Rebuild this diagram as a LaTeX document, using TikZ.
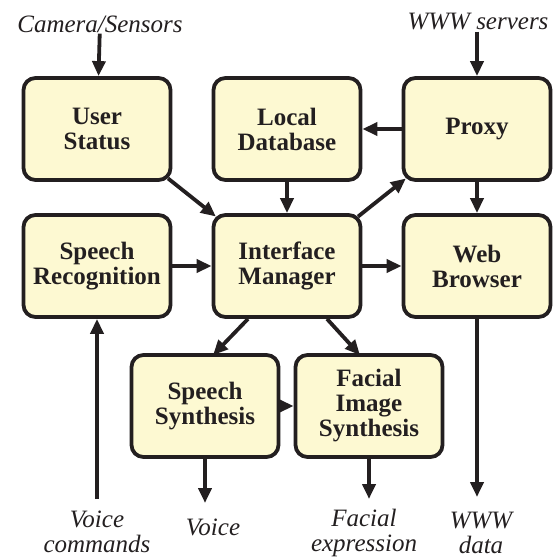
\documentclass[tikz,border=0pt]{standalone}
\usepackage{fontspec}
\setmainfont{Liberation Serif}
\usetikzlibrary{positioning, arrows.meta}
\definecolor{boxfill}{RGB}{253,249,210}
\definecolor{ink}{RGB}{35,31,32}
\tikzset{
    block/.style={draw=ink, line width=3.8pt, fill=boxfill, rounded corners=12pt,
        minimum width=147pt, minimum height=102pt, align=center,
        font=\fontsize{25}{25}\selectfont\bfseries, text=ink}, % the yellow boxes
    io/.style={align=center, inner sep=1pt, font=\fontsize{25}{25}\selectfont\itshape, text=ink}, % outside labels
}
\tikzstyle{arrow} = [draw=ink, line width=3.8pt, -{Triangle[length=15pt, width=13pt]}]

\begin{document}
\begin{tikzpicture}[x=1pt, y=-1pt, on grid, node distance=137pt and 190pt]
    \useasboundingbox (0,0) rectangle (554,560);

    % Blocks
    \node[block] (manager) at (287,266) {Interface\\Manager};
    \node[block] (database) [above=of manager] {Local\\Database};
    \node[block] (status) [left=of database] {User\\Status};
    \node[block] (proxy) [right=of database] {Proxy};
    \node[block] (recog) [left=of manager] {Speech\\Recognition};
    \node[block] (browser) [right=of manager] {Web\\Browser};
    \node[block] (speech) [below left=140pt and 82pt of manager] {Speech\\Synthesis};
    \node[block] (face) [right=164pt of speech] {Facial\\Image\\Synthesis};

    % Inputs and outputs
    \node[io] (camera) at (100,24) {Camera/Sensors};
    \node[io] (servers) at (478,22) {WWW servers};
    \node[io, anchor=north] (vcmd) at (97,510) {Voice\\commands};
    \node[io, anchor=north] (voice) at (213,518) {Voice};
    \node[io, anchor=north] (facial) at (364,508) {Facial\\expression};
    \node[io, anchor=north] (wwwdata) at (481,511) {WWW\\data};
    \coordinate (vcmdend) at (97,499);
    \coordinate (voiceend) at (205,503);
    \coordinate (faceend) at (369,499);
    \coordinate (webend) at (477,497);

    % Connections
    \draw[arrow] (camera) -- (status);
    \draw[arrow] ([xshift=-1pt]servers.south) -- (proxy);
    \draw[arrow] (proxy) -- (database);
    \draw[arrow] (database) -- (manager);
    \draw[arrow] (proxy) -- (browser);
    \draw[arrow, shorten <=-5.5pt, shorten >=-5.5pt] (status.south east) -- (manager.north west);
    \draw[arrow, shorten <=-5.5pt, shorten >=-5.5pt] (manager.north east) -- (proxy.south west);
    \draw[arrow] (recog) -- (manager);
    \draw[arrow] (manager) -- (browser);
    \draw[arrow] ([xshift=-39pt]manager.south) -- ([xshift=8pt, yshift=-2pt]speech.north);
    \draw[arrow] ([xshift=40pt]manager.south) -- ([xshift=-9pt, yshift=-2pt]face.north);
    \draw[arrow] (speech) -- (face);
    \draw[arrow] (vcmdend) -- (recog);
    \draw[arrow] (speech) -- (voiceend);
    \draw[arrow] (face) -- (faceend);
    \draw[arrow] (browser) -- (webend);
\end{tikzpicture}
\end{document}
